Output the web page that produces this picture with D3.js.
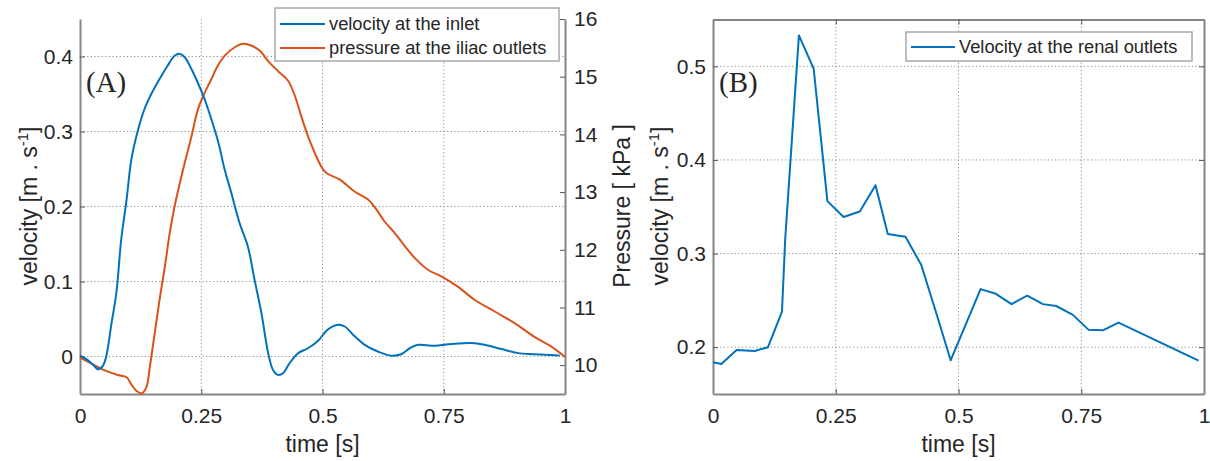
<!DOCTYPE html>
<html>
<head>
<meta charset="utf-8">
<script src="https://cdn.jsdelivr.net/npm/d3@7"></script>
<style>
  html, body { margin: 0; padding: 0; background: #fff; }
  svg { display: block; }
  text { font-family: "Liberation Sans", Arial, Helvetica, sans-serif; fill: #262626; }
</style>
</head>
<body>
<svg id="chart" width="1210" height="461"></svg>
<script>
// ---------- data ----------
const xTicks = [0, 0.25, 0.5, 0.75, 1];
const xTickLabels = ["0", "0.25", "0.5", "0.75", "1"];
const velTicksA = [0, 0.1, 0.2, 0.3, 0.4];
const velTickLabelsA = ["0", "0.1", "0.2", "0.3", "0.4"];
const pressTicks = [10, 11, 12, 13, 14, 15, 16];
const velTicksB = [0.2, 0.3, 0.4, 0.5];
const velTickLabelsB = ["0.2", "0.3", "0.4", "0.5"];

const timeInlet = [0,0.013,0.027,0.037,0.047,0.054,0.065,0.075,0.085,0.096,0.106,0.12,0.133,0.147,0.164,0.181,0.195,0.206,0.216,0.23,0.243,0.257,0.271,0.285,0.298,0.312,0.329,0.346,0.36,0.374,0.388,0.398,0.408,0.419,0.432,0.45,0.47,0.491,0.511,0.532,0.546,0.563,0.587,0.614,0.642,0.662,0.68,0.697,0.731,0.766,0.807,0.834,0.869,0.903,0.937,0.989];
const velInlet = [0.001,-0.0035,-0.011,-0.017,-0.0125,0,0.0446,0.085,0.156,0.209,0.263,0.303,0.33,0.35,0.37,0.388,0.401,0.4035,0.399,0.383,0.365,0.343,0.316,0.286,0.25,0.218,0.178,0.147,0.102,0.058,0.0045,-0.018,-0.0245,-0.022,-0.009,0.0045,0.011,0.021,0.036,0.0424,0.040,0.029,0.0156,0.0067,0.001,0.003,0.011,0.0156,0.0143,0.0166,0.0179,0.0156,0.0099,0.0045,0.003,0.0013];

const timePress = [0,0.023,0.051,0.078,0.096,0.107,0.117,0.127,0.137,0.144,0.154,0.164,0.175,0.185,0.195,0.206,0.216,0.23,0.243,0.257,0.271,0.284,0.298,0.319,0.336,0.353,0.371,0.388,0.408,0.429,0.443,0.456,0.47,0.484,0.497,0.508,0.535,0.566,0.594,0.611,0.628,0.649,0.67,0.69,0.718,0.745,0.779,0.814,0.855,0.896,0.937,0.972,1.0];
const pressIliac = [10.13,10.03,9.91,9.83,9.79,9.65,9.55,9.51,9.62,9.97,10.55,11.13,11.71,12.29,12.75,13.16,13.51,13.97,14.43,14.72,14.96,15.19,15.36,15.51,15.57,15.54,15.45,15.27,15.10,14.93,14.67,14.32,13.97,13.68,13.45,13.33,13.22,13.01,12.87,12.70,12.49,12.29,12.06,11.86,11.65,11.54,11.36,11.13,10.93,10.73,10.49,10.32,10.14];

const timeRenal = [0,0.017,0.048,0.085,0.112,0.1405,0.147,0.175,0.205,0.233,0.266,0.299,0.331,0.356,0.392,0.424,0.455,0.484,0.545,0.576,0.608,0.640,0.672,0.699,0.733,0.765,0.794,0.826,0.989];
const velRenal = [0.184,0.182,0.197,0.196,0.200,0.238,0.315,0.533,0.4975,0.356,0.339,0.345,0.373,0.321,0.318,0.288,0.236,0.186,0.262,0.257,0.246,0.255,0.246,0.244,0.2345,0.2185,0.218,0.2263,0.1857];

const legendA = ["velocity at the inlet", "pressure at the iliac outlets"];
const legendB = ["Velocity at the renal outlets"];

// ---------- drawing ----------
const svg = d3.select("#chart");
const BLUE = "#0072BD", ORANGE = "#D95319";
const AXIS = "#858585", GRID = "#8f8f8f";
const TICKFS = 21, LABELFS = 23;

const A = {l: 80, r: 565, t: 19, b: 394};
const B = {l: 713, r: 1204, t: 19.5, b: 394};

const xA = d3.scaleLinear().domain([0, 1]).range([A.l, A.r]);
const yA = d3.scaleLinear().domain([-0.05, 0.45]).range([A.b, A.t]);
const pA = d3.scaleLinear().domain([9.5, 16]).range([A.b, A.t]);
const xB = d3.scaleLinear().domain([0, 1]).range([B.l, B.r]);
const yB = d3.scaleLinear().domain([0.15, 0.55]).range([B.b, B.t]);

function grid(x, y, box, yt) {
  const gg = svg.append("g");
  gg.selectAll("line.gx").data(xTicks.slice(1, -1)).join("line")
    .attr("x1", d => x(d)).attr("x2", d => x(d)).attr("y1", box.t).attr("y2", box.b)
    .attr("stroke", GRID).attr("stroke-width", 1).attr("stroke-dasharray", "1.2,2.4");
  gg.selectAll("line.gy").data(yt).join("line")
    .attr("y1", d => y(d)).attr("y2", d => y(d)).attr("x1", box.l).attr("x2", box.r)
    .attr("stroke", GRID).attr("stroke-width", 1).attr("stroke-dasharray", "1.2,2.4");
}

function styleAxis(g, showText) {
  g.select(".domain").attr("stroke", AXIS).attr("stroke-width", 2);
  g.selectAll(".tick line").attr("stroke", "#555").attr("stroke-width", 1);
  g.selectAll(".tick text").attr("font-size", TICKFS).attr("fill", "#262626")
    .attr("font-family", '"Liberation Sans", Arial, sans-serif');
  if (!showText) g.selectAll(".tick text").remove();
}

// ----- Panel A -----
grid(xA, yA, A, velTicksA);

const gAx = svg.append("g").attr("transform", `translate(0,${A.b})`)
  .call(d3.axisBottom(xA).tickValues(xTicks).tickFormat((d, i) => xTickLabels[i])
    .tickSizeInner(-5).tickSizeOuter(0).tickPadding(14));
styleAxis(gAx, true);

const gAy = svg.append("g").attr("transform", `translate(${A.l},0)`)
  .call(d3.axisLeft(yA).tickValues(velTicksA).tickFormat((d, i) => velTickLabelsA[i])
    .tickSizeInner(-5).tickSizeOuter(0).tickPadding(7));
styleAxis(gAy, true);

const gAp = svg.append("g").attr("transform", `translate(${A.r},0)`)
  .call(d3.axisRight(pA).tickValues(pressTicks).tickFormat(d3.format("d"))
    .tickSizeInner(-5).tickSizeOuter(0).tickPadding(9));
styleAxis(gAp, true);

const lineInlet = d3.line().x(d => xA(d[0])).y(d => yA(d[1])).curve(d3.curveCatmullRom);
const linePress = d3.line().x(d => xA(d[0])).y(d => pA(d[1])).curve(d3.curveCatmullRom);

svg.append("path").datum(d3.zip(timePress, pressIliac)).attr("d", linePress)
  .attr("fill", "none").attr("stroke", ORANGE).attr("stroke-width", 2);
svg.append("path").datum(d3.zip(timeInlet, velInlet)).attr("d", lineInlet)
  .attr("fill", "none").attr("stroke", BLUE).attr("stroke-width", 2);

// labels A
svg.append("text").attr("x", (A.l + A.r) / 2).attr("y", 452).attr("text-anchor", "middle")
  .attr("font-size", LABELFS).text("time [s]");

function velLabel(x, y) {
  const t = svg.append("text").attr("transform", `translate(${x},${y}) rotate(-90)`)
    .attr("text-anchor", "middle").attr("font-size", LABELFS);
  t.append("tspan").text("velocity [m . s");
  t.append("tspan").attr("dy", -9).attr("font-size", 15).text("-1");
  t.append("tspan").attr("dy", 9).text("]");
}
velLabel(37, 206);

svg.append("text").attr("transform", `translate(630,206) rotate(-90)`)
  .attr("text-anchor", "middle").attr("font-size", LABELFS).text("Pressure [ kPa ]");

svg.append("text").attr("x", 86).attr("y", 92).attr("font-size", 29)
  .style("font-family", '"Liberation Serif", "Times New Roman", serif').text("(A)");

// legend A
const legA = svg.append("g");
legA.append("rect").attr("x", 275).attr("y", 8).attr("width", 284).attr("height", 53)
  .attr("fill", "#fff").attr("stroke", "#a8a8a8").attr("stroke-width", 1.5);
[BLUE, ORANGE].forEach((c, i) => {
  const cy = 24 + i * 24;
  legA.append("line").attr("x1", 280).attr("x2", 325).attr("y1", cy).attr("y2", cy)
    .attr("stroke", c).attr("stroke-width", 2);
  legA.append("text").attr("x", 329).attr("y", cy).attr("dy", "0.35em")
    .attr("font-size", 18.3).text(legendA[i]);
});

// ----- Panel B -----
grid(xB, yB, B, velTicksB);

const gBx = svg.append("g").attr("transform", `translate(0,${B.b})`)
  .call(d3.axisBottom(xB).tickValues(xTicks).tickFormat((d, i) => xTickLabels[i])
    .tickSizeInner(-5).tickSizeOuter(0).tickPadding(14));
styleAxis(gBx, true);
const gBt = svg.append("g").attr("transform", `translate(0,${B.t})`)
  .call(d3.axisTop(xB).tickValues(xTicks).tickSizeInner(-5).tickSizeOuter(0));
styleAxis(gBt, false);

const gBy = svg.append("g").attr("transform", `translate(${B.l},0)`)
  .call(d3.axisLeft(yB).tickValues(velTicksB).tickFormat((d, i) => velTickLabelsB[i])
    .tickSizeInner(-5).tickSizeOuter(0).tickPadding(7));
styleAxis(gBy, true);
const gBr = svg.append("g").attr("transform", `translate(${B.r},0)`)
  .call(d3.axisRight(yB).tickValues(velTicksB).tickSizeInner(-5).tickSizeOuter(0));
styleAxis(gBr, false);

const lineRenal = d3.line().x(d => xB(d[0])).y(d => yB(d[1]));
svg.append("path").datum(d3.zip(timeRenal, velRenal)).attr("d", lineRenal)
  .attr("fill", "none").attr("stroke", BLUE).attr("stroke-width", 2).attr("stroke-linejoin", "round");

svg.append("text").attr("x", (B.l + B.r) / 2).attr("y", 452).attr("text-anchor", "middle")
  .attr("font-size", LABELFS).text("time [s]");
velLabel(668, 206);

svg.append("text").attr("x", 719).attr("y", 92).attr("font-size", 29)
  .style("font-family", '"Liberation Serif", "Times New Roman", serif').text("(B)");

const legB = svg.append("g");
legB.append("rect").attr("x", 906).attr("y", 32).attr("width", 286).attr("height", 29)
  .attr("fill", "#fff").attr("stroke", "#a8a8a8").attr("stroke-width", 1.5);
legB.append("line").attr("x1", 911).attr("x2", 955).attr("y1", 47).attr("y2", 47)
  .attr("stroke", BLUE).attr("stroke-width", 2);
legB.append("text").attr("x", 959).attr("y", 47).attr("dy", "0.35em")
  .attr("font-size", 18.3).text(legendB[0]);
</script>
</body>
</html>
